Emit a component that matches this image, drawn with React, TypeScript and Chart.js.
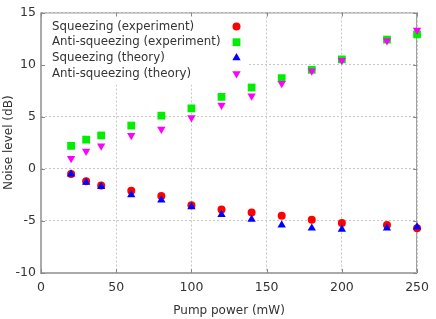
import React, { useEffect, useRef } from "react";
import { Chart, registerables } from "chart.js";

Chart.register(...registerables);

const pumpPower = [20, 30, 40, 60, 80, 100, 120, 140, 160, 180, 200, 230, 250];
const sqzExp = [-0.5, -1.2, -1.6, -2.1, -2.6, -3.5, -3.9, -4.2, -4.5, -4.9, -5.2, -5.4, -5.7];
const antiExp = [2.2, 2.8, 3.2, 4.15, 5.1, 5.8, 6.9, 7.8, 8.7, 9.5, 10.5, 12.4, 12.9];
const sqzTheory = [-0.5, -1.3, -1.7, -2.5, -3.0, -3.65, -4.4, -4.85, -5.4, -5.7, -5.8, -5.7, -5.6];
const antiTheory = [1.0, 1.7, 2.2, 3.2, 3.8, 4.9, 6.1, 7.0, 8.2, 9.4, 10.4, 12.3, 13.3];
const seriesLabels = [
  "Squeezing (experiment)",
  "Anti-squeezing (experiment)",
  "Squeezing (theory)",
  "Anti-squeezing (theory)",
];
const xTitle = "Pump power (mW)";
const yTitle = "Noise level (dB)";

const FONT = "'DejaVu Sans', sans-serif";
const TEXT = "#333333";

const toPts = (ys: number[]) => pumpPower.map((x, i) => ({ x, y: ys[i] }));

function marker(ctx: CanvasRenderingContext2D, kind: string, r: number, rot: number, x: number, y: number, color: string) {
  ctx.save();
  ctx.fillStyle = color;
  ctx.beginPath();
  if (kind === "circle") {
    ctx.arc(x, y, r, 0, Math.PI * 2);
  } else if (kind === "rect") {
    const s = r * Math.SQRT1_2;
    ctx.rect(x - s, y - s, 2 * s, 2 * s);
  } else {
    const d = (rot * Math.PI) / 180;
    for (let k = 0; k < 3; k++) {
      const ang = d + (k * 2 * Math.PI) / 3;
      const px = x + Math.sin(ang) * r;
      const py = y - Math.cos(ang) * r;
      if (k === 0) ctx.moveTo(px, py);
      else ctx.lineTo(px, py);
    }
    ctx.closePath();
  }
  ctx.fill();
  ctx.restore();
}

export default function App() {
  const ref = useRef<HTMLCanvasElement | null>(null);
  useEffect(() => {
    document.body.style.margin = "0";
    const canvas = ref.current!;
    const styles = [
      { color: "#ff0000", style: "circle", radius: 4, rot: 0 },
      { color: "#00ee00", style: "rect", radius: 5.5, rot: 0 },
      { color: "#0000ff", style: "triangle", radius: 4.8, rot: 0 },
      { color: "#ff00ff", style: "triangle", radius: 4.8, rot: 180 },
    ];
    const dataArr = [sqzExp, antiExp, sqzTheory, antiTheory];
    const orders = [3, 2, 1, 0];

    const overlay = {
      id: "overlay",
      beforeDatasetsDraw(chart: any) {
        const ctx = chart.ctx as CanvasRenderingContext2D;
        const a = chart.chartArea;
        ctx.save();
        ctx.fillStyle = "#ffffff";
        ctx.fillRect(a.left + 1, a.top + 1, 205, 71);
        // frame
        ctx.strokeStyle = "#999999";
        ctx.lineWidth = 1;
        ctx.strokeRect(a.left + 0.5, a.top + 0.5, a.right - a.left - 1, a.bottom - a.top - 1);
        ctx.lineWidth = 2;
        ctx.strokeStyle = "#aaaaaa";
        ctx.beginPath();
        ctx.moveTo(a.left, a.top);
        ctx.lineTo(a.left, a.bottom);
        ctx.lineTo(a.right, a.bottom);
        ctx.stroke();
        const xs = chart.scales.x;
        const ys = chart.scales.y;
        ctx.lineWidth = 1;
        ctx.strokeStyle = "#888888";
        ctx.beginPath();
        for (const t of xs.ticks) {
          const px = Math.round(xs.getPixelForValue(t.value)) + 0.5;
          ctx.moveTo(px, a.bottom);
          ctx.lineTo(px, a.bottom - 4);
          ctx.moveTo(px, a.top);
          ctx.lineTo(px, a.top + 4);
        }
        for (const t of ys.ticks) {
          const py = Math.round(ys.getPixelForValue(t.value)) + 0.5;
          ctx.moveTo(a.left, py);
          ctx.lineTo(a.left + 4, py);
          ctx.moveTo(a.right, py);
          ctx.lineTo(a.right - 4, py);
        }
        ctx.stroke();
        ctx.font = `11.8px ${FONT}`;
        ctx.textBaseline = "middle";
        ctx.textAlign = "left";
        seriesLabels.forEach((lab, i) => {
          const y = a.top + 14 + i * 15.7;
          ctx.fillStyle = TEXT;
          ctx.fillText(lab, a.left + 11, y);
          const s = styles[i];
          marker(ctx, s.style, s.radius, s.rot, 236.5, y, s.color);
        });
        ctx.fillStyle = TEXT;
        ctx.font = `12px ${FONT}`;
        ctx.textAlign = "center";
        ctx.fillText(xTitle, (a.left + a.right) / 2, 311);
        ctx.save();
        ctx.translate(9, (a.top + a.bottom) / 2);
        ctx.rotate(-Math.PI / 2);
        ctx.fillText(yTitle, 0, 0);
        ctx.restore();
        ctx.restore();
      },
    };

    const chart = new Chart(canvas, {
      type: "scatter",
      data: {
        datasets: dataArr.map((d, i) => ({
          label: seriesLabels[i],
          data: toPts(d),
          pointStyle: styles[i].style as any,
          pointRadius: styles[i].radius,
          pointRotation: styles[i].rot,
          backgroundColor: styles[i].color,
          borderColor: styles[i].color,
          pointBorderWidth: 0,
          order: orders[i],
          clip: false as any,
        })),
      },
      options: {
        animation: false,
        responsive: false,
        events: [],
        layout: { padding: { left: 0, right: 15, top: 7, bottom: 0 } },
        plugins: { legend: { display: false }, tooltip: { enabled: false } },
        scales: {
          x: {
            type: "linear",
            min: 0,
            max: 250,
            afterFit: (s: any) => {
              s.height = 46;
            },
            ticks: { stepSize: 50, color: TEXT, font: { family: FONT, size: 12.5 }, padding: 7 },
            grid: { color: "#c8c8c8", drawTicks: false },
            border: { display: false, dash: [2, 2] },
          },
          y: {
            type: "linear",
            min: -10,
            max: 15,
            afterFit: (s: any) => {
              s.width = 41;
            },
            ticks: { stepSize: 5, color: TEXT, font: { family: FONT, size: 12.5 }, padding: 5 },
            grid: { color: "#c8c8c8", drawTicks: false },
            border: { display: false, dash: [2, 2] },
          },
        },
      },
      plugins: [overlay],
    });
    return () => chart.destroy();
  }, []);
  return (
    <div style={{ width: 436, height: 319 }}>
      <canvas ref={ref} width={436} height={319} style={{ display: "block" }} />
    </div>
  );
}
